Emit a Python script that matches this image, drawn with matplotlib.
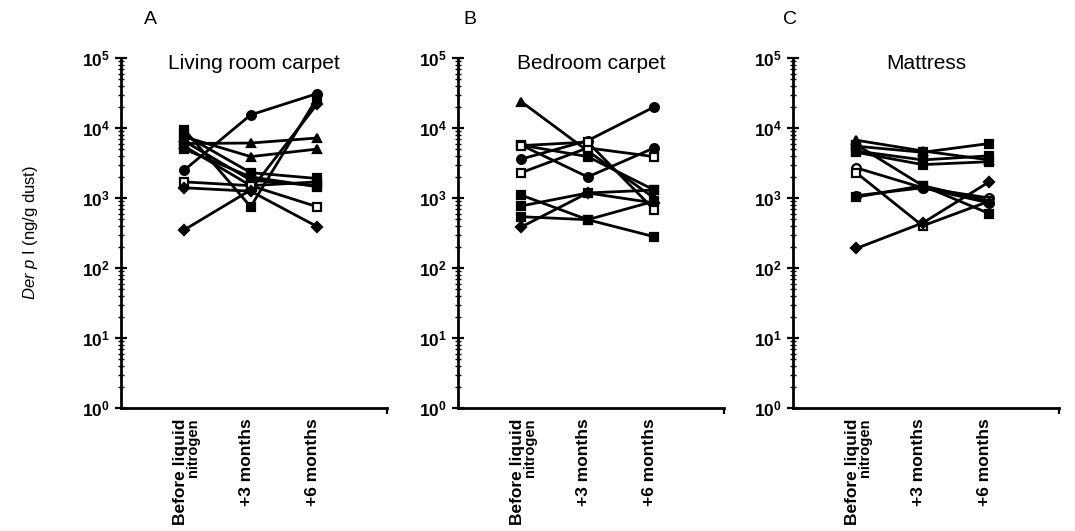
import numpy as np
import matplotlib
matplotlib.use("Agg")
import matplotlib.pyplot as plt
from matplotlib.ticker import LogLocator, NullFormatter, FixedLocator

plt.rcParams['font.family'] = ['Liberation Sans', 'DejaVu Sans']
plt.rcParams['mathtext.fontset'] = 'custom'
plt.rcParams['mathtext.rm'] = 'Liberation Sans'
plt.rcParams['mathtext.it'] = 'Liberation Sans:italic'
plt.rcParams['mathtext.bf'] = 'Liberation Sans:bold'

# 数据
timepoints = ["Before liquid", "+3 months", "+6 months"]
panel_titles = ["Living room carpet", "Bedroom carpet", "Mattress"]
panel_letters = ["A", "B", "C"]

living_room = [
    [350, 1300, 22000],
    [2500, 15400, 31000],
    [6000, 6100, 7200],
    [7500, 3900, 5000],
    [9500, 750, 27000],
    [8000, 2300, 1900],
    [6500, 1800, 1500],
    [5500, 1500, 1700],
    [1700, 1500, 750],
    [1400, 1250, 390],
    [5000, 2000, 1450],
]
living_room_markers = ['D', 'o', '^', '^', 's', 's', 's', 's', 's', 'D', 's']
living_room_open = [0, 0, 0, 0, 0, 0, 0, 0, 1, 0, 0]

bedroom = [
    [23800, 4700, 1000],
    [3600, 6600, 20000],
    [2300, 5200, 3900],
    [5700, 3900, 1300],
    [5700, 2000, 5200],
    [1100, 490, 280],
    [770, 1180, 1300],
    [540, 490, 900],
    [385, 1180, 850],
    [5600, 6300, 680],
]
bedroom_markers = ['^', 'o', 's', 's', 'o', 's', 's', 's', 'D', 's']
bedroom_open = [0, 0, 1, 0, 0, 0, 0, 0, 0, 1]

mattress = [
    [6700, 4700, 3500],
    [5500, 4500, 6000],
    [4700, 3500, 4000],
    [4500, 3000, 3300],
    [5800, 1500, 900],
    [2700, 1400, 1000],
    [2300, 400, 900],
    [1030, 1500, 600],
    [1080, 1400, 850],
    [190, 440, 1700],
]
mattress_markers = ['^', 's', 's', 's', 's', 'o', 's', 's', 'o', 'D']
mattress_open = [0, 0, 0, 0, 0, 1, 1, 0, 0, 0]

panels = [
    (living_room, living_room_markers, living_room_open),
    (bedroom, bedroom_markers, bedroom_open),
    (mattress, mattress_markers, mattress_open),
]

fig = plt.figure(figsize=(10.75, 5.31), dpi=100)
W, H = 1075, 531
lefts = [121, 458, 793]
ax_w = 266
top_px, bot_px = 58, 408

x = np.arange(1, len(timepoints) + 1)

for i, (data, markers, opens) in enumerate(panels):
    ax = fig.add_axes([lefts[i] / W, (H - bot_px) / H, ax_w / W, (bot_px - top_px) / H])
    for vals, m, op in zip(data, markers, opens):
        ms = 5 if m == 'D' else 6.3
        ax.plot(x, vals, color='black', lw=2, marker=m, ms=ms,
                mfc='white' if op else 'black', mec='black', mew=1.6)
    ax.set_yscale('log')
    ax.set_ylim(1, 1e5)
    ax.set_xlim(0.05, 4.05)
    for s in ['top', 'right']:
        ax.spines[s].set_visible(False)
    ax.spines['left'].set_linewidth(2)
    ax.spines['bottom'].set_linewidth(2)
    ax.yaxis.set_major_locator(FixedLocator([1, 10, 100, 1e3, 1e4, 1e5]))
    ax.set_yticklabels([r'$\mathbf{10^{%d}}$' % k for k in range(6)], fontsize=12.5)
    ax.yaxis.set_minor_locator(LogLocator(base=10, subs=np.arange(2, 10), numticks=20))
    ax.yaxis.set_minor_formatter(NullFormatter())
    ax.tick_params(axis='y', which='major', direction='inout', length=8, width=1.6, pad=4)
    ax.tick_params(axis='y', which='minor', direction='inout', length=4, width=1.0)
    ax.set_xticks([4.05])
    ax.set_xticklabels([''])
    ax.tick_params(axis='x', direction='out', length=4, width=1.6)

    # x 轴类别标签（竖排）
    ax.text(x[0] - 0.06, -0.03, timepoints[0], transform=ax.get_xaxis_transform(),
            rotation=90, ha='center', va='top', fontsize=12.5, fontweight='bold')
    ax.text(x[0] + 0.13, -0.03, "nitrogen", transform=ax.get_xaxis_transform(),
            rotation=90, ha='center', va='top', fontsize=10.5, fontweight='bold')
    for xi, lab in zip(x[1:], timepoints[1:]):
        ax.text(xi - 0.07, -0.03, lab, transform=ax.get_xaxis_transform(),
                rotation=90, ha='center', va='top', fontsize=12.5, fontweight='bold')

    ax.text(0.5, 0.985, panel_titles[i], transform=ax.transAxes,
            ha='center', va='center', fontsize=15)

    if i == 0:
        ax.set_ylabel(r'$\mathit{Der\ p}$ I (ng/g dust)', fontsize=12, labelpad=30)

letter_x = [150, 470, 790]
for lx, lt in zip(letter_x, panel_letters):
    fig.text(lx / W, 1 - 20 / H, lt, ha='center', va='center', fontsize=14)

plt.savefig('out.png', dpi=100)
